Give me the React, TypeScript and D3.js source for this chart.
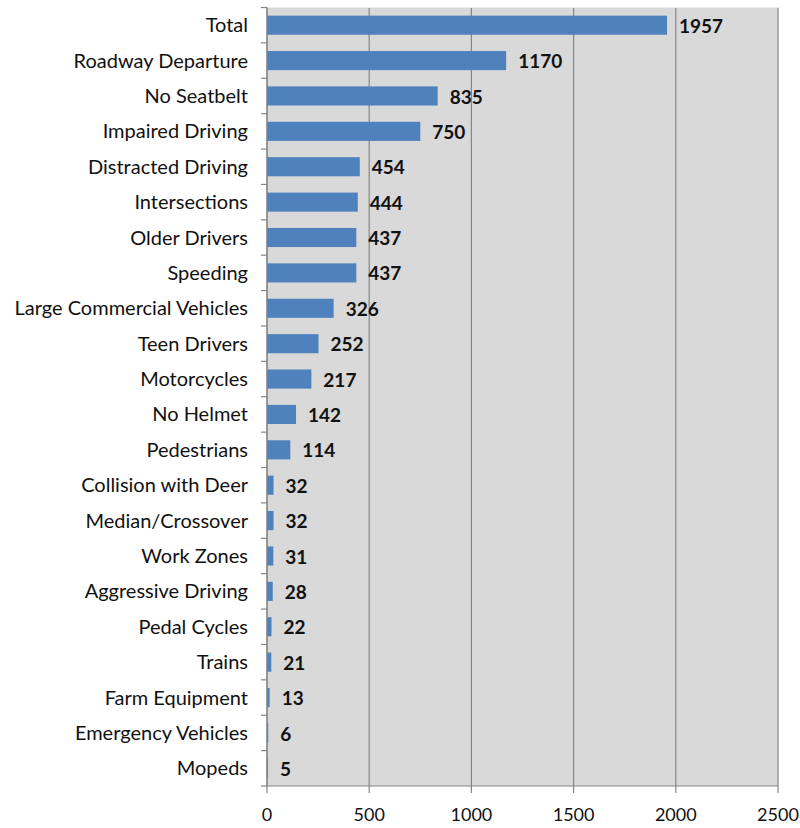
import React from "react";
import * as d3 from "d3";

const categories = [
  "Total", "Roadway Departure", "No Seatbelt", "Impaired Driving", "Distracted Driving",
  "Intersections", "Older Drivers", "Speeding", "Large Commercial Vehicles", "Teen Drivers",
  "Motorcycles", "No Helmet", "Pedestrians", "Collision with Deer", "Median/Crossover",
  "Work Zones", "Aggressive Driving", "Pedal Cycles", "Trains", "Farm Equipment",
  "Emergency Vehicles", "Mopeds",
];
const values = [1957, 1170, 835, 750, 454, 444, 437, 437, 326, 252, 217, 142, 114, 32, 32, 31, 28, 22, 21, 13, 6, 5];
const xTicks = [0, 500, 1000, 1500, 2000, 2500];

const W = 800, H = 828;
const left = 267, right = 778, top = 7.5, bottom = 786;
const FONT = "Lato, 'Open Sans', sans-serif";

export default function App() {
  const x = d3.scaleLinear().domain([0, 2500]).range([left, right]);
  const y = d3.scaleBand<string>().domain(categories).range([top, bottom]).paddingInner(0.46).paddingOuter(0.23);
  const step = y.step();
  return (
    <svg width={W} height={H} style={{ position: "absolute", left: 0, top: 0 }}>
      <rect x={left} y={top} width={right - left} height={bottom - top} fill="#d9d9d9" />
      {xTicks.map((t) => (
        <line key={"g" + t} x1={x(t)} x2={x(t)} y1={top} y2={bottom} stroke="#868686" strokeWidth={1.2} />
      ))}
      <line x1={left} x2={right} y1={top} y2={top} stroke="#ececec" strokeWidth={1} />
      {categories.map((c, i) => (
        <rect key={c} x={x(0)} y={y(c)!} width={x(values[i]) - x(0)} height={y.bandwidth()} fill="#4f81bd" />
      ))}
      {/* left axis */}
      <line x1={left} x2={left} y1={top} y2={bottom} stroke="#868686" strokeWidth={1.2} />
      {d3.range(categories.length + 1).map((i) => (
        <line key={"yt" + i} x1={left - 6} x2={left} y1={top + i * step} y2={top + i * step} stroke="#868686" strokeWidth={1.2} />
      ))}
      {/* bottom axis */}
      <line x1={left} x2={right} y1={bottom} y2={bottom} stroke="#868686" strokeWidth={1.2} />
      {xTicks.map((t) => (
        <line key={"xt" + t} x1={x(t)} x2={x(t)} y1={bottom} y2={bottom + 7} stroke="#868686" strokeWidth={1.2} />
      ))}
      {xTicks.map((t) => (
        <text key={"xl" + t} x={x(t)} y={821} textAnchor="middle" fontFamily={FONT} fontSize={18} fill="#111">
          {t}
        </text>
      ))}
      {categories.map((c) => (
        <text key={"cl" + c} x={248} y={y(c)! + y.bandwidth() / 2} dy="0.35em" textAnchor="end" fontFamily={FONT} fontSize={20} fill="#111">
          {c}
        </text>
      ))}
      {categories.map((c, i) => (
        <text key={"vl" + c} x={x(values[i]) + 12} y={y(c)! + y.bandwidth() / 2} dy="0.4em" fontFamily={FONT} fontWeight="bold" fontSize={19} fill="#111">
          {values[i]}
        </text>
      ))}
    </svg>
  );
}
